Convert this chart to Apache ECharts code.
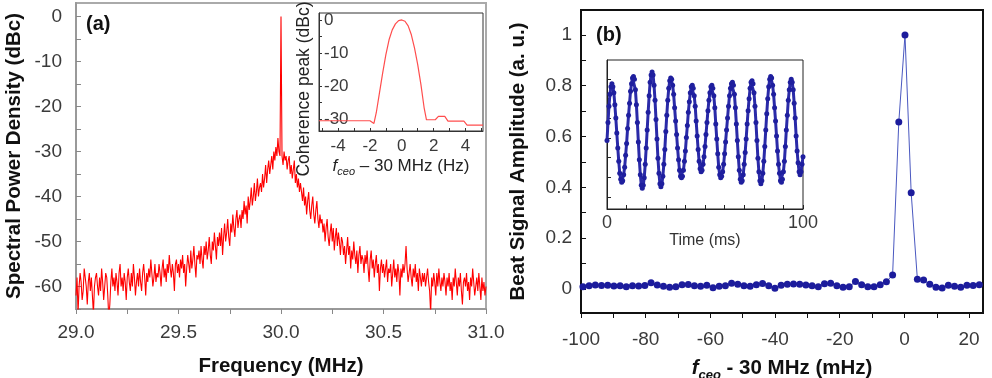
<!DOCTYPE html>
<html>
<head>
<meta charset="utf-8">
<title>fceo beat spectrum</title>
<script src="https://cdn.jsdelivr.net/npm/echarts@6.0.0/dist/echarts.min.js"></script>
<style>
  html, body { margin: 0; padding: 0; background: #fff; }
  #chart { width: 992px; height: 378px; }
</style>
</head>
<body>
<div id="chart"></div>
<script>
// (a) RF spectrum, 29.000 .. 31.000 MHz, one point every 5 kHz (20 per row = 0.1 MHz)
const spectrumStart = 29.0;
const spectrumStep = 0.005;
const spectrumDb = [
  -62, -58, -66, -60, -57, -59, -63, -61, -56, -58, -60, -64, -59, -57, -61, -58, -62, -66, -60, -58,
  -57, -60, -62, -58, -61, -56, -59, -63, -60, -57, -58, -62, -67, -64, -59, -56, -60, -58, -61, -57,
  -59, -62, -57, -55, -60, -58, -61, -57, -59, -63, -58, -56, -59, -61, -57, -60, -55, -58, -62, -59,
  -57, -60, -56, -59, -61, -57, -55, -58, -62, -57, -59, -56, -58, -54, -57, -60, -58, -55, -59, -57,
  -58, -55, -57, -60, -56, -54, -58, -56, -59, -55, -57, -53, -56, -58, -55, -57, -61, -55, -54, -57,
  -55, -58, -54, -56, -53, -57, -55, -60, -56, -53, -55, -57, -52, -56, -54, -51, -55, -58, -53, -54,
  -52, -55, -51, -54, -56, -51, -53, -50, -54, -52, -49, -53, -55, -50, -52, -48, -51, -54, -49, -51,
  -48, -51, -47, -53, -49, -46, -50, -48, -45, -49, -51, -46, -48, -44, -47, -49, -45, -43, -47, -45,
  -44, -47, -43, -45, -41, -44, -42, -46, -40, -43, -41, -38, -42, -40, -37, -41, -39, -36, -40, -38,
  -37, -39, -35, -38, -36, -33, -37, -34, -32, -35, -33, -31, -34, -30, -32, -29, -31, -27, -30, -31,
  0, -31, -33, -30, -32, -31, -34, -32, -31, -35, -33, -36, -34, -32, -37, -35, -38, -36, -39, -37,
  -39, -41, -38, -42, -40, -44, -41, -39, -43, -45, -42, -40, -44, -46, -43, -41, -45, -47, -44, -46,
  -45, -48, -46, -50, -47, -45, -49, -51, -48, -46, -50, -47, -52, -49, -47, -51, -48, -50, -53, -49,
  -50, -53, -51, -55, -52, -49, -53, -51, -56, -52, -54, -50, -53, -55, -52, -57, -53, -51, -55, -53,
  -54, -57, -53, -55, -52, -56, -59, -54, -52, -56, -54, -58, -55, -53, -57, -55, -61, -56, -54, -57,
  -55, -58, -56, -54, -59, -56, -57, -55, -60, -57, -54, -58, -56, -59, -55, -57, -62, -56, -58, -55,
  -57, -55, -51, -56, -59, -57, -55, -58, -60, -56, -58, -55, -59, -57, -61, -56, -58, -60, -57, -59,
  -57, -60, -58, -56, -59, -61, -66, -58, -60, -57, -59, -62, -57, -60, -56, -59, -61, -58, -60, -57,
  -59, -62, -58, -60, -57, -61, -59, -63, -58, -60, -56, -59, -62, -58, -60, -57, -61, -64, -59, -58,
  -60, -57, -61, -59, -63, -58, -60, -56, -59, -62, -60, -58, -61, -57, -60, -63, -58, -61, -59, -62,
  -60
];

// (a) inset: coherence peak vs fceo - 30 MHz (Hz)
const cohFreq = [-5.2, -2.0, -1.75, -1.6, -1.4, -1.2, -1.0, -0.8, -0.6, -0.4, -0.2, 0, 0.2, 0.4, 0.6, 0.8, 1.0, 1.2, 1.4, 1.55, 2.1, 2.3, 2.7, 2.9, 3.9, 4.1, 5.1];
const cohDb = [-30.5, -30.5, -31.3, -28, -22, -16, -10.5, -6, -3, -1.2, -0.2, 0, -0.4, -1.8, -4.5, -8.5, -13.5, -19.5, -26.5, -30.2, -30.2, -29.2, -29.2, -30.6, -30.6, -31.8, -31.8];

// (b) beat amplitude, one point every 1.915 mHz starting at -99.4 mHz
const beatStart = -99.4;
const beatStep = 1.915;
const beatAmp = [
  0.008, 0.012, 0.015, 0.013, 0.014, 0.011, 0.012, 0.008, 0.012, 0.011,
  0.013, 0.024, 0.015, 0.010, 0.006, 0.008, 0.016, 0.017, 0.012, 0.010,
  0.014, 0.004, 0.010, 0.012, 0.022, 0.018, 0.012, 0.010, 0.016, 0.021,
  0.012, 0.002, 0.014, 0.018, 0.019, 0.018, 0.015, 0.012, 0.008, 0.020,
  0.022, 0.012, 0.006, 0.008, 0.029, 0.016, 0.008, 0.008, 0.016, 0.028,
  0.055, 0.657, 1.0, 0.378, 0.038, 0.035, 0.018, 0.006, 0.003, 0.014,
  0.010, 0.006, 0.014, 0.013, 0.016
];

// (b) inset: beat signal vs time, one sample every 0.5 ms
const timeStep = 0.5;
const timeSignal = [
  0.46, 0.58, 0.69, 0.77, 0.82, 0.84,
  0.82, 0.78, 0.70, 0.61, 0.51, 0.41, 0.32, 0.24, 0.20, 0.18,
  0.19, 0.23, 0.28, 0.36, 0.44, 0.54, 0.63, 0.71, 0.79, 0.84, 0.88, 0.89,
  0.87, 0.80, 0.70, 0.58, 0.45, 0.33, 0.23, 0.16, 0.14,
  0.16, 0.21, 0.30, 0.41, 0.53, 0.65, 0.76, 0.85, 0.90, 0.92,
  0.90, 0.83, 0.73, 0.60, 0.47, 0.34, 0.24, 0.17, 0.15,
  0.17, 0.22, 0.30, 0.40, 0.52, 0.63, 0.73, 0.81, 0.86, 0.88,
  0.87, 0.83, 0.77, 0.68, 0.59, 0.50, 0.41, 0.33, 0.26, 0.22, 0.21,
  0.22, 0.26, 0.32, 0.39, 0.48, 0.56, 0.65, 0.72, 0.78, 0.82, 0.83,
  0.81, 0.76, 0.69, 0.59, 0.49, 0.40, 0.32, 0.27, 0.25,
  0.26, 0.30, 0.35, 0.42, 0.50, 0.58, 0.66, 0.73, 0.78, 0.82, 0.83,
  0.81, 0.76, 0.68, 0.57, 0.47, 0.37, 0.28, 0.23, 0.21,
  0.22, 0.25, 0.30, 0.37, 0.45, 0.53, 0.61, 0.69, 0.76, 0.81, 0.84, 0.85,
  0.83, 0.77, 0.68, 0.57, 0.46, 0.35, 0.26, 0.20, 0.18,
  0.19, 0.23, 0.30, 0.38, 0.47, 0.57, 0.66, 0.74, 0.81, 0.85, 0.86,
  0.84, 0.78, 0.69, 0.58, 0.46, 0.34, 0.25, 0.19, 0.17,
  0.19, 0.24, 0.32, 0.42, 0.53, 0.64, 0.74, 0.82, 0.87, 0.89,
  0.88, 0.83, 0.77, 0.68, 0.59, 0.49, 0.39, 0.30, 0.24, 0.19, 0.18,
  0.20, 0.25, 0.32, 0.42, 0.53, 0.63, 0.73, 0.80, 0.85, 0.87,
  0.85, 0.80, 0.71, 0.61, 0.49, 0.39, 0.31, 0.25, 0.23,
  0.25, 0.30, 0.35
];

// tick labels
const freqLabels = [29, 29.5, 30, 30.5, 31];
const dbLabels = [0, -10, -20, -30, -40, -50, -60];
const cohFreqLabels = [-4, -2, 0, 2, 4];
const cohDbLabels = [0, -10, -20, -30];
const beatFreqLabels = [-100, -80, -60, -40, -20, 0, 20];
const ampLabels = [0, 0.2, 0.4, 0.6, 0.8, 1];
const timeLabels = [0, 100];

const FONT = 'Liberation Sans';
const LABEL = '#3a3a3a';

const chart = echarts.init(document.getElementById('chart'), null, { renderer: 'canvas' });

chart.setOption({
  animation: false,
  backgroundColor: '#fff',
  textStyle: { fontFamily: FONT },
  grid: [
    { left: 76, top: 3, width: 410, height: 306, outerBoundsMode: 'none', show: true, borderColor: '#aaa', borderWidth: 2 },
    { left: 319, top: 13, width: 164, height: 118, outerBoundsMode: 'none', show: true, borderColor: '#333', borderWidth: 1, backgroundColor: '#fff' },
    { left: 581, top: 10, width: 402, height: 303, outerBoundsMode: 'none', show: true, borderColor: '#111', borderWidth: 2 },
    { left: 607, top: 60, width: 196, height: 149, outerBoundsMode: 'none', show: true, borderColor: '#222', borderWidth: 1, backgroundColor: '#fff' }
  ],
  graphic: [
    { type: 'text', left: 86, top: 14, style: { text: '(a)', font: 'bold 20px ' + FONT, fill: '#111' } },
    { type: 'text', left: 596, top: 25, style: { text: '(b)', font: 'bold 20px ' + FONT, fill: '#111' } }
  ],
  xAxis: [
    {
      gridIndex: 0, type: 'value', min: 29, max: 31,
      axisLine: { onZero: false, lineStyle: { color: '#999', width: 2 } },
      axisTick: { customValues: [29, 29.25, 29.5, 29.75, 30, 30.25, 30.5, 30.75, 31], length: 5, lineStyle: { color: '#888' } },
      axisLabel: { customValues: freqLabels, formatter: v => v.toFixed(1), fontSize: 19, margin: 14, color: LABEL },
      splitLine: { show: false },
      name: 'Frequency (MHz)', nameLocation: 'middle', nameGap: 47,
      nameTextStyle: { fontSize: 20.5, fontWeight: 'bold', color: '#111' }
    },
    {
      gridIndex: 1, type: 'value', min: -5.2, max: 5.1,
      axisLine: { onZero: false, lineStyle: { color: '#333', width: 1 } },
      axisTick: { inside: true, customValues: [-5, -4, -3, -2, -1, 0, 1, 2, 3, 4, 5], length: 3, lineStyle: { color: '#333' } },
      axisLabel: { customValues: cohFreqLabels, fontSize: 17, margin: 7, color: LABEL },
      splitLine: { show: false },
      name: '{i|f}{s|ceo} – 30 MHz (Hz)', nameLocation: 'middle', nameGap: 25,
      nameTextStyle: {
        fontSize: 17, color: '#222',
        rich: { i: { fontStyle: 'italic', fontSize: 17 }, s: { fontStyle: 'italic', fontSize: 11, padding: [10, 0, 0, 0] } }
      }
    },
    {
      gridIndex: 2, type: 'value', min: -100, max: 24.3,
      axisLine: { onZero: false, lineStyle: { color: '#111', width: 2 } },
      axisTick: { customValues: [-100, -90, -80, -70, -60, -50, -40, -30, -20, -10, 0, 10, 20], length: 5, lineStyle: { color: '#111' } },
      axisLabel: { customValues: beatFreqLabels, fontSize: 19, margin: 17, color: LABEL },
      splitLine: { show: false },
      name: '{i|f}{s|ceo} - 30 MHz (mHz)', nameLocation: 'middle', nameGap: 42,
      nameTextStyle: {
        fontSize: 20.5, fontWeight: 'bold', color: '#111',
        rich: { i: { fontStyle: 'italic', fontWeight: 'bold', fontSize: 20.5 }, s: { fontStyle: 'italic', fontWeight: 'bold', fontSize: 13, padding: [14, 0, 0, 0] } }
      }
    },
    {
      gridIndex: 3, type: 'value', min: 0, max: 100,
      axisLine: { onZero: false, lineStyle: { color: '#222', width: 1 } },
      axisTick: { inside: true, customValues: [0, 10, 20, 30, 40, 50, 60, 70, 80, 90, 100], length: 4, lineStyle: { color: '#222' } },
      axisLabel: { customValues: timeLabels, fontSize: 18, margin: 5, color: LABEL },
      splitLine: { show: false },
      name: 'Time (ms)', nameLocation: 'middle', nameGap: 15,
      nameTextStyle: { fontSize: 16, color: '#333' }
    }
  ],
  yAxis: [
    {
      gridIndex: 0, type: 'value', min: -65, max: 3,
      axisLine: { show: true, onZero: false, lineStyle: { color: '#999', width: 2 } },
      axisTick: { inside: true, customValues: [-65, -60, -55, -50, -45, -40, -35, -30, -25, -20, -15, -10, -5, 0], length: 5, lineStyle: { color: '#888' } },
      axisLabel: { customValues: dbLabels, fontSize: 19, margin: 14, color: LABEL },
      splitLine: { show: false },
      name: 'Spectral Power Density (dBc)', nameLocation: 'middle', nameGap: 51,
      nameTextStyle: { fontSize: 20.5, fontWeight: 'bold', color: '#111' }
    },
    {
      gridIndex: 1, type: 'value', min: -33.6, max: 2.1,
      axisLine: { show: true, onZero: false, lineStyle: { color: '#333', width: 1 } },
      axisTick: { inside: true, customValues: [-30, -25, -20, -15, -10, -5, 0], length: 3, lineStyle: { color: '#333' } },
      axisLabel: { inside: true, customValues: cohDbLabels, fontSize: 17, margin: 5, color: LABEL },
      splitLine: { show: false },
      name: 'Coherence peak (dBc)', nameLocation: 'middle', nameGap: 6,
      nameTextStyle: { fontSize: 17.5, color: '#222', padding: [0, 34, 0, 0] }
    },
    {
      gridIndex: 2, type: 'value', min: -0.095, max: 1.098,
      axisLine: { show: true, onZero: false, lineStyle: { color: '#111', width: 2 } },
      axisTick: { inside: true, customValues: [0, 0.1, 0.2, 0.3, 0.4, 0.5, 0.6, 0.7, 0.8, 0.9, 1], length: 5, lineStyle: { color: '#111' } },
      axisLabel: { customValues: ampLabels, formatter: v => String(+v.toFixed(1)), fontSize: 19, margin: 9, color: LABEL },
      splitLine: { show: false },
      name: 'Beat Signal Amplitude (a. u.)', nameLocation: 'middle', nameGap: 52,
      nameTextStyle: { fontSize: 20.5, fontWeight: 'bold', color: '#111' }
    },
    {
      gridIndex: 3, type: 'value', min: 0, max: 1,
      axisLine: { show: true, onZero: false, lineStyle: { color: '#222', width: 1 } },
      axisTick: { inside: true, customValues: [0.08, 0.212, 0.344, 0.476, 0.608, 0.74, 0.872], length: 4, lineStyle: { color: '#222' } },
      axisLabel: { show: false },
      splitLine: { show: false }
    }
  ],
  series: [
    {
      type: 'line', xAxisIndex: 0, yAxisIndex: 0, symbol: 'none',
      data: spectrumDb.map((v, i) => [spectrumStart + i * spectrumStep, v]),
      lineStyle: { color: '#ff0000', width: 1.1 }
    },
    {
      type: 'line', xAxisIndex: 1, yAxisIndex: 1, symbol: 'none',
      data: cohFreq.map((f, i) => [f, cohDb[i]]),
      lineStyle: { color: '#ff4d4d', width: 1.2 }
    },
    {
      type: 'line', xAxisIndex: 2, yAxisIndex: 2, symbol: 'circle', symbolSize: 7,
      data: beatAmp.map((v, i) => [beatStart + i * beatStep, v]),
      lineStyle: { color: '#4a58c0', width: 1 },
      itemStyle: { color: '#1c1c9c' }
    },
    {
      type: 'line', xAxisIndex: 3, yAxisIndex: 3, symbol: 'circle', symbolSize: 5,
      showAllSymbol: true,
      data: timeSignal.map((v, i) => [i * timeStep, v]),
      lineStyle: { color: '#2a2aa8', width: 3 },
      itemStyle: { color: '#1f1f9e' }
    }
  ]
});
</script>
</body>
</html>
